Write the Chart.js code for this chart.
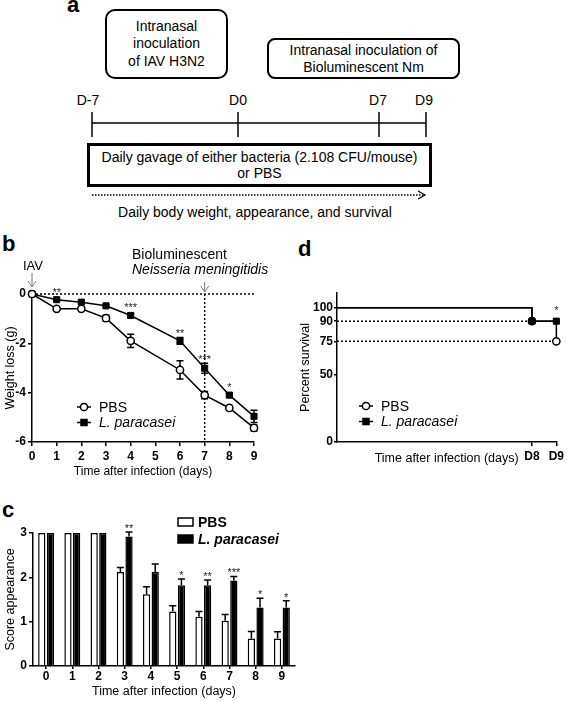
<!DOCTYPE html>
<html>
<head>
<meta charset="utf-8">
<title>Weight, appearance and survival</title>
<script src="https://cdn.jsdelivr.net/npm/chart.js@4.4.1/dist/chart.umd.min.js"></script>
<style>
  html, body { margin: 0; padding: 0; background: #fff; }
  body {
    width: 567px; height: 702px; position: relative; overflow: hidden;
    font-family: "Liberation Sans", Arial, sans-serif; color: #000;
  }
  .panel-label { position: absolute; font-weight: bold; font-size: 22px; line-height: 22px; }
  .box {
    position: absolute; box-sizing: border-box; border: 2px solid #000; border-radius: 10px;
    display: flex; align-items: center; justify-content: center; text-align: center; font-size: 14px;
  }
  .tl { position: absolute; transform: translateX(-50%); font-size: 14px; line-height: 16px; white-space: nowrap; }
  canvas { position: absolute; }
</style>
</head>
<body>

<!-- Panel a: protocol scheme -->
<div class="panel-label" style="left:67px;top:-6px">a</div>
<div class="box" style="left:105px;top:9px;width:123px;height:70px;line-height:17.5px;">Intranasal<br>inoculation<br>of IAV H3N2</div>
<div class="box" style="left:267px;top:38px;width:193px;height:41px;border-radius:8px;line-height:17px;">Intranasal inoculation of<br>Bioluminescent Nm</div>
<div class="tl" style="left:88px;top:92px">D-7</div>
<div class="tl" style="left:238px;top:92px">D0</div>
<div class="tl" style="left:378px;top:92px">D7</div>
<div class="tl" style="left:424px;top:92px">D9</div>
<svg style="position:absolute;left:0;top:0" width="567" height="230">
  <line x1="92" y1="123" x2="426" y2="123" stroke="#000" stroke-width="1.5"/>
  <line x1="92" y1="112" x2="92" y2="137" stroke="#000" stroke-width="1.5"/>
  <line x1="238" y1="112" x2="238" y2="137" stroke="#000" stroke-width="1.5"/>
  <line x1="379" y1="112" x2="379" y2="137" stroke="#000" stroke-width="1.5"/>
  <line x1="426" y1="112" x2="426" y2="137" stroke="#000" stroke-width="1.5"/>
  <line x1="92" y1="195" x2="423" y2="195" stroke="#000" stroke-width="1.5" stroke-dasharray="1.5,1.5"/>
  <polyline points="418,191 425,195 418,199" fill="none" stroke="#000" stroke-width="1.3"/>
</svg>
<div class="box" style="left:87px;top:143px;width:345px;height:44px;border:3px solid #000;border-radius:0;line-height:16px;">Daily gavage of either bacteria (2.108 CFU/mouse)<br>or PBS</div>
<div class="tl" style="left:255px;top:204px">Daily body weight, appearance, and survival</div>

<div class="panel-label" style="left:2px;top:233px">b</div>
<div class="panel-label" style="left:298px;top:238px">d</div>
<div class="panel-label" style="left:2px;top:499px">c</div>

<canvas id="weightChart" width="280" height="262" style="left:0;top:230px"></canvas>
<canvas id="survivalChart" width="287" height="262" style="left:280px;top:230px"></canvas>
<canvas id="scoreChart" width="300" height="212" style="left:0;top:490px"></canvas>

<script>
// Panel b: weight loss (g) per day
const days = [0, 1, 2, 3, 4, 6, 7, 8, 9];
const pbsWeight = [0, -0.6, -0.6, -0.98, -1.9, -3.08, -4.1, -4.62, -5.43];
const pbsWeightErr = [0, 0.04, 0.04, 0.12, 0.27, 0.37, 0.15, 0.1, 0.12];
const lpWeight = [0, -0.23, -0.33, -0.48, -0.87, -1.9, -3.01, -4.1, -4.96];
const lpWeightErr = [0, 0.04, 0.04, 0.05, 0.08, 0.14, 0.2, 0.08, 0.25];
const weightStars = ['', '**', '', '', '***', '**', '***', '*', ''];
const weightTicks = [0, -2, -4, -6];
const iavDay = 0;
const nmDay = 7;

// Panel c: score appearance per day
const scoreDays = ['0', '1', '2', '3', '4', '5', '6', '7', '8', '9'];
const pbsScore = [3, 3, 3, 2.12, 1.62, 1.23, 1.11, 1.02, 0.62, 0.62];
const pbsScoreErr = [0, 0, 0, 0.1, 0.17, 0.13, 0.12, 0.14, 0.16, 0.15];
const lpScore = [3, 3, 3, 2.92, 2.12, 1.82, 1.82, 1.93, 1.32, 1.32];
const lpScoreErr = [0, 0, 0, 0.1, 0.18, 0.14, 0.12, 0.09, 0.21, 0.15];
const scoreStars = ['', '', '', '**', '', '*', '**', '***', '*', '*'];

// Panel d: percent survival
const survivalDays = [0, 8, 9];
const pbsSurvival = [100, 90, 75];
const lpSurvival = [100, 90, 90];
const survivalTicks = [0, 50, 75, 90, 100];
const survivalDayTicks = [8, 9];
const survivalStars = ['', '', '*'];

const FONT = '"Liberation Sans", Arial, sans-serif';
Chart.defaults.font.family = FONT;
Chart.defaults.color = '#000';
Chart.defaults.animation = false;

function axisGrid() {
    return { drawOnChartArea: false, color: '#000', tickColor: '#000', tickLength: 4, lineWidth: 1.5 };
}
const axisBorder = { color: '#000', width: 1.5 };
const tickFont = { size: 12, weight: 'bold' };

function drawStar(ctx, text, x, yCenter) {
    ctx.save();
    ctx.font = '11px ' + FONT;
    ctx.fillStyle = '#222';
    ctx.textAlign = 'center';
    ctx.textBaseline = 'alphabetic';
    ctx.fillText(text, x, yCenter + 6);
    ctx.restore();
}

function drawMarker(ctx, kind, x, y) {
    ctx.save();
    ctx.lineWidth = 1.5;
    ctx.strokeStyle = '#000';
    ctx.beginPath();
    if (kind === 'circle') {
        ctx.arc(x, y, 3.6, 0, Math.PI * 2);
        ctx.fillStyle = '#fff';
    } else {
        ctx.rect(x - 3, y - 3, 6, 6);
        ctx.fillStyle = '#000';
    }
    ctx.fill();
    ctx.stroke();
    ctx.restore();
}

function drawLineLegend(ctx, x, y, rows) {
    rows.forEach((row, i) => {
        const yy = y + i * 15.5;
        ctx.save();
        ctx.strokeStyle = '#000';
        ctx.lineWidth = 1.5;
        ctx.beginPath();
        ctx.moveTo(x - 7, yy);
        ctx.lineTo(x + 7, yy);
        ctx.stroke();
        ctx.restore();
        drawMarker(ctx, row.marker, x, yy);
        ctx.save();
        ctx.font = (row.italic ? 'italic ' : '') + '14px ' + FONT;
        ctx.fillStyle = '#000';
        ctx.textBaseline = 'middle';
        ctx.fillText(row.label, x + 15, yy + 1);
        ctx.restore();
    });
}

function drawDownArrow(ctx, x, y1, y2) {
    ctx.save();
    ctx.strokeStyle = '#777';
    ctx.lineWidth = 1;
    ctx.beginPath();
    ctx.moveTo(x, y1);
    ctx.lineTo(x, y2);
    ctx.moveTo(x - 4, y2 - 6);
    ctx.lineTo(x, y2);
    ctx.lineTo(x + 4, y2 - 6);
    ctx.stroke();
    ctx.restore();
}

// symmetric error bars for line charts
function drawLineErrors(chart) {
    const {ctx, scales: {y}} = chart;
    chart.data.datasets.forEach((ds, di) => {
        const meta = chart.getDatasetMeta(di);
        meta.data.forEach((pt, i) => {
            const err = ds.errors[i];
            if (!err) return;
            const v = ds.data[i].y;
            const top = y.getPixelForValue(v + err);
            const bottom = y.getPixelForValue(v - err);
            ctx.save();
            ctx.strokeStyle = '#000';
            ctx.lineWidth = 1.5;
            ctx.beginPath();
            ctx.moveTo(pt.x, top); ctx.lineTo(pt.x, bottom);
            ctx.moveTo(pt.x - 3.5, top); ctx.lineTo(pt.x + 3.5, top);
            ctx.moveTo(pt.x - 3.5, bottom); ctx.lineTo(pt.x + 3.5, bottom);
            ctx.stroke();
            ctx.restore();
        });
    });
}

const weightExtras = {
    id: 'weightExtras',
    beforeDatasetsDraw(chart) {
        const {ctx, scales: {x, y}} = chart;
        ctx.save();
        ctx.strokeStyle = '#000';
        ctx.lineWidth = 1.5;
        ctx.setLineDash([2, 2]);
        ctx.beginPath();
        ctx.moveTo(x.getPixelForValue(x.min), y.getPixelForValue(0));
        ctx.lineTo(x.getPixelForValue(x.max), y.getPixelForValue(0));
        ctx.moveTo(x.getPixelForValue(nmDay), y.getPixelForValue(y.max));
        ctx.lineTo(x.getPixelForValue(nmDay), y.getPixelForValue(y.min));
        ctx.stroke();
        ctx.restore();
        drawLineErrors(chart);
    },
    afterDraw(chart) {
        const {ctx, chartArea, scales: {x, y}} = chart;
        const top = chartArea.top;
        // event labels
        ctx.save();
        ctx.fillStyle = '#000';
        ctx.textBaseline = 'middle';
        ctx.font = '13px ' + FONT;
        ctx.textAlign = 'center';
        ctx.fillText('IAV', x.getPixelForValue(iavDay) + 1, top - 28);
        ctx.textAlign = 'left';
        ctx.font = '14px ' + FONT;
        ctx.fillText('Bioluminescent', 132, top - 39);
        ctx.font = 'italic 14px ' + FONT;
        ctx.fillText('Neisseria meningitidis', 132, top - 24);
        ctx.restore();
        drawDownArrow(ctx, x.getPixelForValue(iavDay), top - 21, top - 7);
        drawDownArrow(ctx, x.getPixelForValue(nmDay), top - 12, top - 2);
        // significance above L. paracasei points
        const lp = chart.data.datasets[1];
        weightStars.forEach((s, i) => {
            if (!s) return;
            const yPt = y.getPixelForValue(lp.data[i].y);
            const yTop = y.getPixelForValue(lp.data[i].y + lp.errors[i]);
            drawStar(ctx, s, x.getPixelForValue(days[i]), Math.min(yTop - 6, yPt - 10));
        });
        drawLineLegend(ctx, chartArea.left + 52, chartArea.top + 113, [
            {marker: 'circle', label: 'PBS'},
            {marker: 'rect', label: 'L. paracasei', italic: true}
        ]);
    }
};

new Chart(document.getElementById('weightChart'), {
    type: 'line',
    data: {
        datasets: [{
            label: 'PBS',
            data: days.map((d, i) => ({x: d, y: pbsWeight[i]})),
            errors: pbsWeightErr,
            borderColor: '#000',
            borderWidth: 1.5,
            pointStyle: 'circle',
            pointRadius: 3.6,
            pointBackgroundColor: '#fff',
            pointBorderColor: '#000',
            pointBorderWidth: 1.5,
            clip: false
        }, {
            label: 'L. paracasei',
            data: days.map((d, i) => ({x: d, y: lpWeight[i]})),
            errors: lpWeightErr,
            borderColor: '#000',
            borderWidth: 1.5,
            pointStyle: 'rect',
            pointRadius: 4.3,
            pointBackgroundColor: '#000',
            pointBorderColor: '#000',
            pointBorderWidth: 1,
            clip: false
        }]
    },
    options: {
        responsive: false,
        devicePixelRatio: 1,
        layout: { padding: { top: 64, right: 26, bottom: 0, left: 0 } },
        plugins: { legend: { display: false }, tooltip: { enabled: false } },
        scales: {
            x: {
                type: 'linear', min: 0, max: 9,
                afterFit: s => { s.height = 50; },
                ticks: { stepSize: 1, font: tickFont, padding: 3 },
                grid: axisGrid(),
                border: axisBorder,
                title: { display: true, text: 'Time after infection (days)', font: { size: 12 }, padding: { top: 0, bottom: 13 } }
            },
            y: {
                min: -6, max: 0,
                afterFit: s => { s.width = 32; },
                afterBuildTicks: s => { s.ticks = weightTicks.map(v => ({value: v})); },
                ticks: { font: tickFont, padding: 2 },
                grid: axisGrid(),
                border: axisBorder,
                title: { display: true, text: 'Weight loss (g)', font: { size: 12.5 }, padding: { top: 3, bottom: 0 } }
            }
        }
    },
    plugins: [weightExtras]
});

// Panel d
const survivalExtras = {
    id: 'survivalExtras',
    beforeDatasetsDraw(chart) {
        const {ctx, scales: {x, y}} = chart;
        ctx.save();
        ctx.strokeStyle = '#000';
        ctx.lineWidth = 1.5;
        ctx.setLineDash([2, 2]);
        ctx.beginPath();
        [pbsSurvival[1], pbsSurvival[2]].forEach(v => {
            ctx.moveTo(x.getPixelForValue(x.min), y.getPixelForValue(v));
            ctx.lineTo(x.getPixelForValue(x.max), y.getPixelForValue(v));
        });
        ctx.stroke();
        ctx.restore();
    },
    afterDraw(chart) {
        const {ctx, chartArea, scales: {x, y}} = chart;
        survivalStars.forEach((s, i) => {
            if (!s) return;
            drawStar(ctx, s, x.getPixelForValue(survivalDays[i]), y.getPixelForValue(100));
        });
        drawLineLegend(ctx, chartArea.left + 29, chartArea.top + 113, [
            {marker: 'circle', label: 'PBS'},
            {marker: 'rect', label: 'L. paracasei', italic: true}
        ]);
    }
};

new Chart(document.getElementById('survivalChart'), {
    type: 'line',
    data: {
        datasets: [{
            label: 'PBS',
            data: survivalDays.map((d, i) => ({x: d, y: pbsSurvival[i]})),
            order: 1,
            stepped: 'before',
            borderColor: '#000',
            borderWidth: 1.5,
            pointStyle: 'circle',
            pointRadius: [0, 3.6, 3.6],
            pointBackgroundColor: '#fff',
            pointBorderColor: '#000',
            pointBorderWidth: 1.5,
            clip: false
        }, {
            label: 'L. paracasei',
            data: survivalDays.map((d, i) => ({x: d, y: lpSurvival[i]})),
            order: 0,
            stepped: 'before',
            borderColor: '#000',
            borderWidth: 1.5,
            pointStyle: 'rect',
            pointRadius: [0, 4.3, 4.3],
            pointBackgroundColor: '#000',
            pointBorderColor: '#000',
            pointBorderWidth: 1,
            clip: false
        }]
    },
    options: {
        responsive: false,
        devicePixelRatio: 1,
        layout: { padding: { top: 63, right: 8, bottom: 0, left: 0 } },
        plugins: { legend: { display: false }, tooltip: { enabled: false } },
        scales: {
            x: {
                type: 'linear', min: 0, max: 9,
                afterFit: s => { s.height = 50; },
                afterBuildTicks: s => { s.ticks = survivalDayTicks.map(v => ({value: v})); },
                ticks: { font: tickFont, padding: 3, callback: v => 'D' + v },
                grid: axisGrid(),
                border: axisBorder,
                title: { display: true, text: 'Time after infection (days)', font: { size: 12.5 }, padding: { top: 0, bottom: 26 } }
            },
            y: {
                min: 0, max: 111,
                afterFit: s => { s.width = 57; },
                afterBuildTicks: s => { s.ticks = survivalTicks.map(v => ({value: v})); },
                ticks: { font: tickFont, padding: 1 },
                grid: Object.assign(axisGrid(), { tickLength: 3 }),
                border: axisBorder,
                title: { display: true, text: 'Percent survival', font: { size: 12.5 }, padding: { top: 18, bottom: 0 } }
            }
        }
    },
    plugins: [survivalExtras]
});

// Panel c
const scoreExtras = {
    id: 'scoreExtras',
    afterDatasetsDraw(chart) {
        const {ctx, scales: {y}} = chart;
        chart.data.datasets.forEach((ds, di) => {
            const meta = chart.getDatasetMeta(di);
            meta.data.forEach((bar, i) => {
                const err = ds.errors[i];
                if (!err) return;
                const base = y.getPixelForValue(ds.data[i]);
                const top = y.getPixelForValue(ds.data[i] + err);
                ctx.save();
                ctx.strokeStyle = '#000';
                ctx.lineWidth = 1.5;
                ctx.beginPath();
                ctx.moveTo(bar.x, base); ctx.lineTo(bar.x, top);
                ctx.moveTo(bar.x - 3.5, top); ctx.lineTo(bar.x + 3.5, top);
                ctx.stroke();
                ctx.restore();
            });
        });
        const lpMeta = chart.getDatasetMeta(1);
        scoreStars.forEach((s, i) => {
            if (!s) return;
            const top = y.getPixelForValue(lpScore[i] + lpScoreErr[i]);
            drawStar(ctx, s, lpMeta.data[i].x, top - 6);
        });
    },
    afterDraw(chart) {
        const {ctx, chartArea} = chart;
        const lx = chartArea.left + 145;
        const rows = [
            {label: 'PBS', fill: '#fff', font: 'bold 14px '},
            {label: 'L. paracasei', fill: '#000', font: 'italic bold 14px '}
        ];
        rows.forEach((row, i) => {
            const yy = chartArea.top - 11 + i * 17;
            ctx.save();
            ctx.fillStyle = row.fill;
            ctx.strokeStyle = '#000';
            ctx.lineWidth = 1.5;
            ctx.fillRect(lx, yy - 4, 15, 8);
            ctx.strokeRect(lx, yy - 4, 15, 8);
            ctx.fillStyle = '#000';
            ctx.font = row.font + FONT;
            ctx.textBaseline = 'middle';
            ctx.fillText(row.label, lx + 20, yy + 1);
            ctx.restore();
        });
    }
};

new Chart(document.getElementById('scoreChart'), {
    type: 'bar',
    data: {
        labels: scoreDays,
        datasets: [{
            label: 'PBS',
            data: pbsScore,
            errors: pbsScoreErr,
            backgroundColor: '#fff',
            borderColor: '#000',
            borderWidth: 1.5,
            categoryPercentage: 0.66,
            barPercentage: 0.84
        }, {
            label: 'L. paracasei',
            data: lpScore,
            errors: lpScoreErr,
            backgroundColor: '#000',
            borderColor: '#000',
            borderWidth: 1.5,
            categoryPercentage: 0.66,
            barPercentage: 0.84
        }]
    },
    options: {
        responsive: false,
        devicePixelRatio: 1,
        layout: { padding: { top: 43, right: 5, bottom: 0, left: 0 } },
        plugins: { legend: { display: false }, tooltip: { enabled: false } },
        scales: {
            x: {
                afterFit: s => { s.height = 36; },
                ticks: { font: tickFont, padding: 0 },
                grid: Object.assign(axisGrid(), { offset: false, tickLength: 3 }),
                border: axisBorder,
                title: { display: true, text: 'Time after infection (days)', font: { size: 12.5 }, padding: { top: 0, bottom: 3 } }
            },
            y: {
                min: 0, max: 3,
                afterFit: s => { s.width = 33; },
                ticks: { stepSize: 1, font: tickFont, padding: 2 },
                grid: axisGrid(),
                border: axisBorder,
                title: { display: true, text: 'Score appearance', font: { size: 12.5 }, padding: { top: 3, bottom: 0 } }
            }
        }
    },
    plugins: [scoreExtras]
});
</script>
</body>
</html>
